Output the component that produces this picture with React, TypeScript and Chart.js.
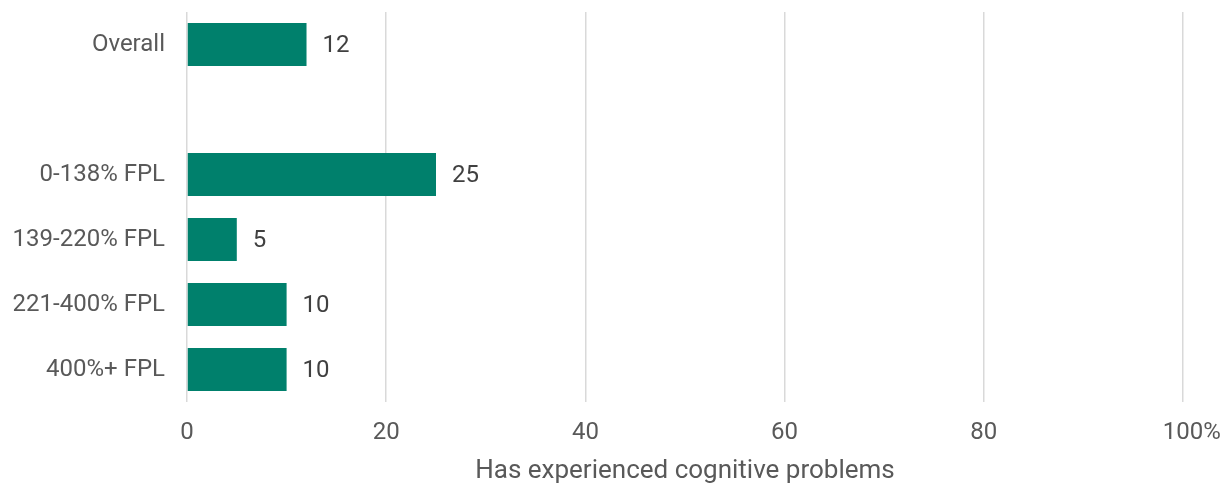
import React, { useEffect, useRef } from "react";
import { Chart, registerables } from "chart.js";

Chart.register(...registerables);

// Income groups, with an empty slot separating the overall figure
const categories: string[] = [
  "Overall",
  "",
  "0-138% FPL",
  "139-220% FPL",
  "221-400% FPL",
  "400%+ FPL",
];

// Share who has experienced cognitive problems (%)
const values: (number | null)[] = [12, null, 25, 5, 10, 10];

const xTicks: number[] = [0, 20, 40, 60, 80, 100];
const xTickLabels: string[] = ["0", "20", "40", "60", "80", "100%"];
const axisTitle = "Has experienced cognitive problems";

const FONT = "Roboto";
const BAR_COLOR = "#00806c";

// Numbers printed just past the end of each bar
const valueLabels = {
  id: "valueLabels",
  afterDatasetsDraw(chart: any) {
    const { ctx } = chart;
    const meta = chart.getDatasetMeta(0);
    ctx.save();
    ctx.font = `24px ${FONT}`;
    ctx.fillStyle = "#404040";
    ctx.textAlign = "left";
    ctx.textBaseline = "middle";
    meta.data.forEach((bar: any, i: number) => {
      const v = values[i];
      if (v === null || v === undefined) return;
      ctx.fillText(String(v), bar.x + 16, bar.y + 1);
    });
    ctx.restore();
  },
};

// X tick labels: the number is centred on its gridline, a trailing "%" hangs past it
const xTickText = {
  id: "xTickText",
  afterDraw(chart: any) {
    const { ctx, chartArea } = chart;
    const xs = chart.scales.x;
    ctx.save();
    ctx.font = `24px ${FONT}`;
    ctx.fillStyle = "#595959";
    ctx.textAlign = "left";
    ctx.textBaseline = "middle";
    xTicks.forEach((v, i) => {
      const label = xTickLabels[i];
      const num = label.replace("%", "");
      const w = ctx.measureText(num).width;
      ctx.fillText(label, xs.getPixelForValue(v) - w / 2, chartArea.bottom + 31);
    });
    ctx.restore();
  },
};

export default function App() {
  const canvasRef = useRef<HTMLCanvasElement | null>(null);

  useEffect(() => {
    if (!canvasRef.current) return;
    const chart = new Chart(canvasRef.current, {
      type: "bar",
      data: {
        labels: categories,
        datasets: [
          {
            data: values,
            backgroundColor: BAR_COLOR,
            borderWidth: 0,
            barPercentage: 0.66,
            categoryPercentage: 1,
          },
        ],
      },
      options: {
        indexAxis: "y",
        animation: false,
        responsive: false,
        maintainAspectRatio: false,
        layout: { padding: { top: 12, right: 46, left: 0, bottom: 0 } },
        plugins: {
          legend: { display: false },
          tooltip: { enabled: false },
        },
        scales: {
          x: {
            min: 0,
            max: 100,
            afterBuildTicks: (scale: any) => {
              scale.ticks = xTicks.map((v) => ({ value: v }));
            },
            afterFit: (scale: any) => {
              scale.height = 82;
              scale.paddingLeft = 0;
              scale.paddingRight = 0;
            },
            grid: {
              color: "#d9d9d9",
              lineWidth: 1.5,
              drawTicks: false,
            },
            border: { display: false },
            ticks: { display: false },
            title: {
              display: true,
              text: axisTitle,
              color: "#595959",
              font: { family: FONT, size: 26 },
              padding: { top: 0, bottom: -3 },
            },
          },
          y: {
            afterFit: (scale: any) => {
              scale.width = 187;
              scale.paddingTop = 0;
              scale.paddingBottom = 0;
            },
            grid: { display: false, drawTicks: false },
            border: { display: false },
            ticks: {
              padding: 22,
              color: "#595959",
              font: { family: FONT, size: 24 },
            },
          },
        },
      },
      plugins: [valueLabels, xTickText],
    });
    return () => chart.destroy();
  }, []);

  return (
    <div style={{ position: "absolute", left: 0, top: 0, width: 1229, height: 484, background: "#fff" }}>
      <canvas ref={canvasRef} width={1229} height={484} style={{ width: 1229, height: 484 }} />
    </div>
  );
}
